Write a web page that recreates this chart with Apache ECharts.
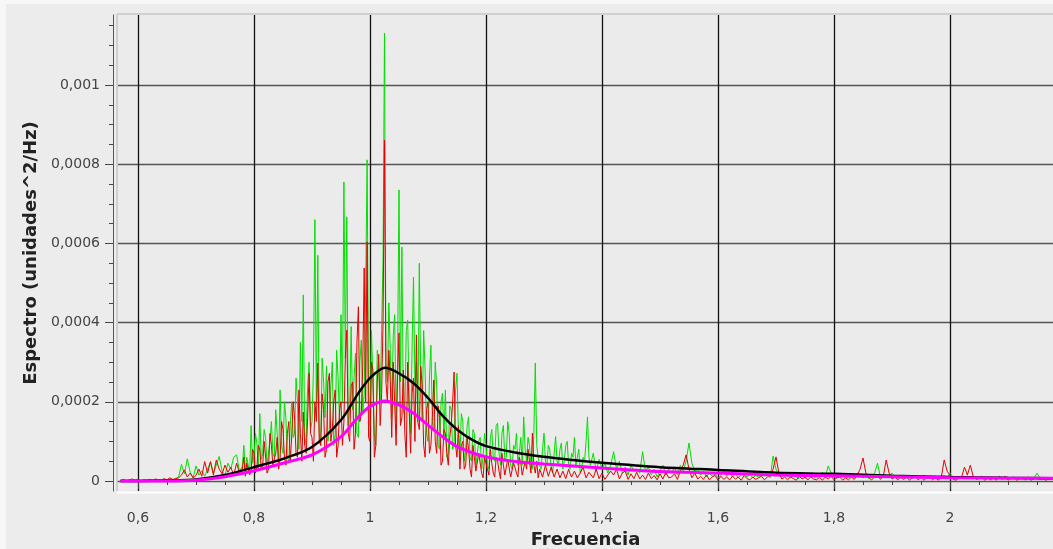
<!DOCTYPE html>
<html><head><meta charset="utf-8">
<script src="https://cdn.jsdelivr.net/npm/echarts@6/dist/echarts.min.js"></script>
<style>html,body{margin:0;padding:0;background:#ececec}#c{width:1053px;height:549px}</style>
</head><body><div id="c"></div>
<script>
// Frequency bin grids (Hz): low band, dense core band, high band
const LOW_START = 0.57,  LOW_STEP = 0.005;
const CORE_START = 0.78, CORE_STEP = 0.0025;
const HIGH_START = 1.38, HIGH_STEP = 0.005;
// Spectrum values in units of 1e-6 (unidades^2/Hz)
const greenLow = [
 0,1,0,1,0,2,1,0,1,1,
 2,1,3,1,2,4,2,5,3,6,
 10,42,18,56,22,8,38,15,26,12,
 30,48,20,40,62,25,14,45,30,60,
 66,24
];
const greenCore = [
 38,90, 18,60, 55,20, 140,45, 60,120, 95,30, 170,55, 70,130,
 110,40, 45,100, 150,70, 60,180, 120,50, 230,90, 70,200, 160,60, 50,140, 200,110,
 120,260, 200,80, 350,150, 470,90, 110,240, 300,130, 150,280, 660,200, 570,120, 90,310,
 250,160, 290,100, 130,240, 300,90, 120,330, 260,150, 420,200, 755,310, 667,140, 180,390,
 180,260, 323,120, 110,300, 356,170, 220,480, 811,230, 140,380, 255,120, 90,330, 300,200,
 380,560, 1131,300, 250,450, 330,160, 364,420, 150,300, 735,250, 591,180, 160,380, 406,200,
 120,330, 515,240, 300,150, 550,260, 150,380, 280,120, 100,260, 343,150, 130,300, 240,90,
 80,200, 222,110, 230,60, 70,190, 180,80, 90,230, 272,120, 60,170, 150,50, 80,140,
 162,60, 50,130, 120,40, 40,100, 110,30, 60,120, 90,40, 30,110, 130,60, 50,140,
 146,70, 40,120, 140,50, 60,150, 120,40, 30,90, 80,120, 40,70, 110,40, 162,80,
 50,110, 90,40, 30,120, 298,90, 60,40, 30,80, 121,50, 40,90, 80,30, 20,70,
 112,50, 40,80, 96,30, 50,90, 100,40, 30,70, 60,110, 40,60, 80,20, 30,60,
 50,100, 162,60
];
const greenHigh = [
 40,70,25,55,30,45,20,40,
 74,30,50,20,35,15,40,25,30,20,
 74,25,35,15,30,10,25,40,15,30,
 20,35,15,40,25,50,96,45,25,30,
 15,25,10,20,12,18,8,15,25,12,
 22,10,18,8,15,20,10,16,8,14,
 10,18,12,20,8,63,30,15,10,18,
 12,8,15,10,6,14,8,12,20,10,
 8,14,22,10,38,20,12,8,15,10,
 12,8,15,10,20,14,8,12,6,10,
 20,45,10,15,8,12,20,10,8,12,
 10,8,14,6,10,12,8,15,6,10,
 8,12,6,10,14,8,20,10,6,8,
 10,6,12,8,10,6,9,12,6,8,
 10,6,8,12,6,9,5,8,10,6,
 8,5,7,10,6,8,20,8,5,7,
 6,5
];
const redLow = [
 2,4,1,3,5,2,4,1,3,2,
 4,2,5,3,2,6,3,8,4,6,
 8,15,28,10,20,8,14,30,12,49,
 20,49,15,53,30,18,40,22,35,15,
 45,20
];
const redCore = [
 30,60, 12,45, 50,15, 25,80, 70,20, 35,90, 80,30, 40,100,
 60,20, 30,120, 90,40, 45,70, 110,30, 55,150, 130,60, 40,120, 150,50, 111,200,
 159,70, 60,230, 120,50, 174,90, 70,160, 272,120, 110,50, 200,150, 298,100, 90,220,
 180,60, 80,250, 272,100, 130,200, 230,60, 90,180, 200,90, 150,310, 381,120, 100,240,
 250,80, 120,350, 440,150, 170,290, 538,200, 604,110, 100,300, 280,60, 90,250, 320,140,
 220,400, 861,250, 200,330, 250,110, 300,200, 90,260, 374,140, 160,280, 120,60, 300,180,
 70,220, 260,100, 369,150, 130,290, 240,90, 60,180, 200,70, 90,160, 255,100, 70,190,
 160,40, 50,130, 120,70, 40,110, 140,200, 275,90, 60,140, 30,90, 100,30, 40,110,
 80,30, 10,90, 60,25, 20,70, 70,20, 8,60, 55,30, 15,80, 45,20, 10,60,
 50,25, 5,70, 40,15, 20,55, 60,10, 8,45, 35,20, 10,60, 45,15, 15,50,
 30,80, 50,20, 121,40, 20,50, 8,30, 35,10, 5,40, 25,12, 8,35, 30,10,
 15,30, 25,8, 5,25, 20,6, 5,30, 18,10, 12,25, 30,8, 4,20, 15,35,
 20,8, 5,22
];
const redHigh = [
 25,8,30,6,20,4,15,25,
 15,30,5,20,25,4,18,6,22,5,
 15,4,20,6,14,3,18,5,22,8,
 10,18,4,25,40,66,30,8,20,5,
 12,4,15,3,10,14,2,12,4,10,
 3,12,5,10,2,14,6,3,10,4,
 8,12,3,10,15,30,61,20,5,10,
 3,10,6,2,12,5,9,3,10,5,
 3,9,2,10,5,12,3,8,10,2,
 8,3,10,4,15,30,58,20,8,3,
 10,15,4,12,53,20,5,10,3,9,
 4,10,2,8,12,3,9,2,8,10,
 3,8,2,10,53,25,15,5,2,7,
 10,35,15,40,12,4,6,9,2,7,
 3,8,2,10,4,12,2,7,9,2,
 6,8,3,7,2,6,8,3,6,2,
 5,4
];
const smoothFreq = [0.57,0.6,0.65,0.7,0.75,0.8,0.85,0.9,0.95,0.98,1.0,1.026,1.05,1.075,1.1,1.125,1.15,1.175,1.2,1.25,1.3,1.35,1.4,1.5,1.6,1.7,1.8,1.9,2.0,2.1,2.1776];
const blackSmooth   = [0,0,1,4,15,35,56,86,154,222,260,286,272,247,210,165,130,105,88,72,61,53,46,35,28,21,18,13,10,8,7];
const magentaSmooth = [0,0,0,2,11,26,45,66,112,162,188,202,192,171,141,112,87,72,61,49,43,38,33,24,20,15,13,11,8,7,7];
const xMajorTicks = [0.6,0.8,1,1.2,1.4,1.6,1.8,2];
const yMajorTicks = [0,0.0002,0.0004,0.0006,0.0008,0.001];

const XMIN = 0.56552, XMAX = 2.17759;
const YMIN = -0.00002525, YMAX = 0.0011768;
const U = 1e-6;

const xMinor = []; for (let k = 12; k <= 43; k++) { if (k % 4 !== 0) xMinor.push(k * 0.05); }
const yMinor = []; for (let k = 0; k <= 23; k++) { if (k % 4 !== 0) yMinor.push(k * 0.00005); }

const fmt = v => String(+(+v).toPrecision(6)).replace('.', ',');
const FONT = 'DejaVu Sans';

const seg = (arr, start, step) => arr.map((v, i) => [start + i * step, v * U]);
const noisy = (lo, core, hi) => seg(lo, LOW_START, LOW_STEP)
  .concat(seg(core, CORE_START, CORE_STEP), seg(hi, HIGH_START, HIGH_STEP));
const smooth = arr => arr.map((v, i) => [smoothFreq[i], v * U]);

const chart = echarts.init(document.getElementById('c'), null, {renderer: 'canvas'});
chart.setOption({
  animation: false,
  backgroundColor: '#ececec',
  grid: {left: 118, top: 15, right: 0, bottom: 58, show: true, backgroundColor: '#ebebeb', borderWidth: 0,
         containLabel: false, outerBoundsMode: 'none'},
  xAxis: [
    {type: 'value', min: XMIN, max: XMAX, position: 'bottom', offset: 6,
     axisLine: {show: true, lineStyle: {color: '#555', width: 1}},
     axisTick: {show: true, length: 8, customValues: xMajorTicks, lineStyle: {color: '#444'}},
     axisLabel: {customValues: xMajorTicks, formatter: fmt, color: '#444', fontSize: 14, fontFamily: FONT, margin: 14},
     splitLine: {show: true, lineStyle: {color: '#111', width: 1.3}},
     name: 'Frecuencia', nameLocation: 'middle', nameGap: 34,
     nameTextStyle: {fontWeight: 'bold', fontSize: 18, color: '#222', fontFamily: FONT}},
    {type: 'value', min: XMIN, max: XMAX, position: 'bottom', offset: 6,
     axisLine: {show: false},
     axisTick: {show: true, length: 4, customValues: xMinor, lineStyle: {color: '#444'}},
     axisLabel: {show: false}, splitLine: {show: false}}
  ],
  yAxis: [
    {type: 'value', min: YMIN, max: YMAX, position: 'left', offset: 5,
     axisLine: {show: true, lineStyle: {color: '#555', width: 1}},
     axisTick: {show: true, length: 8, customValues: yMajorTicks, lineStyle: {color: '#444'}},
     axisLabel: {customValues: yMajorTicks, formatter: fmt, color: '#444', fontSize: 14, fontFamily: FONT, margin: 13},
     splitLine: {show: true, lineStyle: {color: '#555', width: 1.3}},
     name: 'Espectro (unidades^2/Hz)', nameLocation: 'middle', nameGap: 70,
     nameTextStyle: {fontWeight: 'bold', fontSize: 18, color: '#222', fontFamily: FONT}},
    {type: 'value', min: YMIN, max: YMAX, position: 'left', offset: 5,
     axisLine: {show: false},
     axisTick: {show: true, length: 4, customValues: yMinor, lineStyle: {color: '#444'}},
     axisLabel: {show: false}, splitLine: {show: false}}
  ],
  graphic: [
    {type: 'rect', shape: {x: 0, y: 0, width: 1053, height: 4}, style: {fill: '#f7f7f7'}, silent: true},
    {type: 'rect', shape: {x: 0, y: 0, width: 6, height: 549}, style: {fill: '#f7f7f7'}, silent: true},
    {type: 'line', shape: {x1: 117, y1: 14, x2: 1053, y2: 14}, style: {stroke: '#d0d0d0', lineWidth: 2}, silent: true},
    {type: 'line', shape: {x1: 117, y1: 14, x2: 117, y2: 491}, style: {stroke: '#d0d0d0', lineWidth: 2}, silent: true},
    {type: 'line', shape: {x1: 117, y1: 492.5, x2: 1053, y2: 492.5}, style: {stroke: '#ffffff', lineWidth: 2}, silent: true}
  ],
  series: [
    {type: 'line', name: 'g', data: noisy(greenLow, greenCore, greenHigh), xAxisIndex: 0, yAxisIndex: 0,
     showSymbol: false, symbol: 'none', lineStyle: {color: '#00e000', width: 1}, z: 2},
    {type: 'line', name: 'r', data: noisy(redLow, redCore, redHigh), xAxisIndex: 0, yAxisIndex: 0,
     showSymbol: false, symbol: 'none', lineStyle: {color: '#e60000', width: 1}, z: 3},
    {type: 'line', name: 'k', data: smooth(blackSmooth), xAxisIndex: 0, yAxisIndex: 0, showSymbol: false, symbol: 'none',
     smooth: 0.3, lineStyle: {color: '#000000', width: 2.5}, z: 4},
    {type: 'line', name: 'm', data: smooth(magentaSmooth), xAxisIndex: 0, yAxisIndex: 0, showSymbol: false, symbol: 'none',
     smooth: 0.3, lineStyle: {color: '#ff00ff', width: 3}, z: 5}
  ]
});
</script>
</body></html>
